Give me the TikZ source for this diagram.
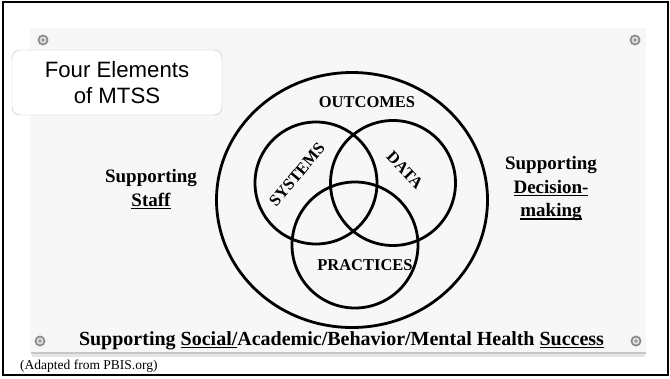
\documentclass[tikz,border=0pt]{standalone}
\usepackage{fontspec}
\setmainfont{Liberation Serif}
\newfontfamily\boxfont{Liberation Sans}
\usepackage{tikz}
\usetikzlibrary{shapes.geometric, positioning}
\tikzstyle{ring} = [circle, draw=black, line width=2.8pt, inner sep=0pt]
\tikzstyle{bigring} = [ellipse, draw=black, line width=2.8pt, inner sep=0pt, minimum width=271pt, minimum height=255pt]
\tikzstyle{setlabel} = [font=\fontsize{16.5}{18}\selectfont\bfseries, inner sep=0pt]
\tikzstyle{support} = [font=\fontsize{19}{23.5}\selectfont\bfseries, align=center, inner sep=0pt]
\tikzstyle{titlebox} = [rectangle, rounded corners=8pt, minimum width=210pt, minimum height=65pt, draw=black!25, fill=white, font=\boxfont\fontsize{22.2}{25.5}\selectfont, align=center]
\tikzstyle{panel} = [fill=black!3]
\newcommand{\undr}[1]{\setbox0\hbox{#1}\rlap{\rule[-2.6pt]{\wd0}{1.1pt}}\box0}

\begin{document}
\begin{tikzpicture}[x=1pt, y=-1pt]
        \useasboundingbox (0,0) rectangle (670,378);
        % slide panel and its shadow
        \fill[black!22] (31,352) rectangle (646,354);
        \fill[black!10] (32,354) rectangle (645,357);
        \fill[panel] (30,28) rectangle (646,352);
        \draw[line width=2pt] (3,2) rectangle (668,375);
        % screws in the corners
        \foreach \sx/\sy in {43/40, 635/40, 40/341, 636/341} {
            \fill[black!45] (\sx,\sy) circle (5.5pt);
            \fill[black!12] (\sx,\sy) circle (3.5pt);
            \fill[black!40] (\sx,\sy) circle (1.8pt);
        }
        \node (title) [titlebox] at (117,82.5) {Four Elements\\of MTSS};
        % the rings
        \node (outcomes) [bigring] at (352,200) {};
        \node (systems) [ring, minimum size=122pt] at (316,183) {};
        \node (data) [ring, minimum size=125pt] at (393,183) {};
        \node (practices) [ring, minimum size=126pt] at (355,245) {};
        \node (outcomesLbl) [setlabel] at (367,102) {OUTCOMES};
        \node (systemsLbl) [setlabel, rotate=50] at (297,175) {SYSTEMS};
        \node (dataLbl) [setlabel, rotate=-46] at (405,170) {DATA};
        \node (practicesLbl) [setlabel] at (365,265) {PRACTICES};
        % supporting texts
        \node (staff) [support] at (151,189) {Supporting\\\undr{Staff}};
        \node (decision) [support] at (551,189) {Supporting\\\undr{Decision-}\\\undr{making}};
        \node (success) [support, anchor=base, font=\fontsize{20}{23}\selectfont\bfseries] at (341.5,345) {Supporting \undr{Social/}Academic/Behavior/Mental Health \undr{Success}};
        \node (source) [anchor=base west, inner sep=0pt, font=\fontsize{13.5}{15}\selectfont] at (20,369) {(Adapted from PBIS.org)};
      \end{tikzpicture}
\end{document}
